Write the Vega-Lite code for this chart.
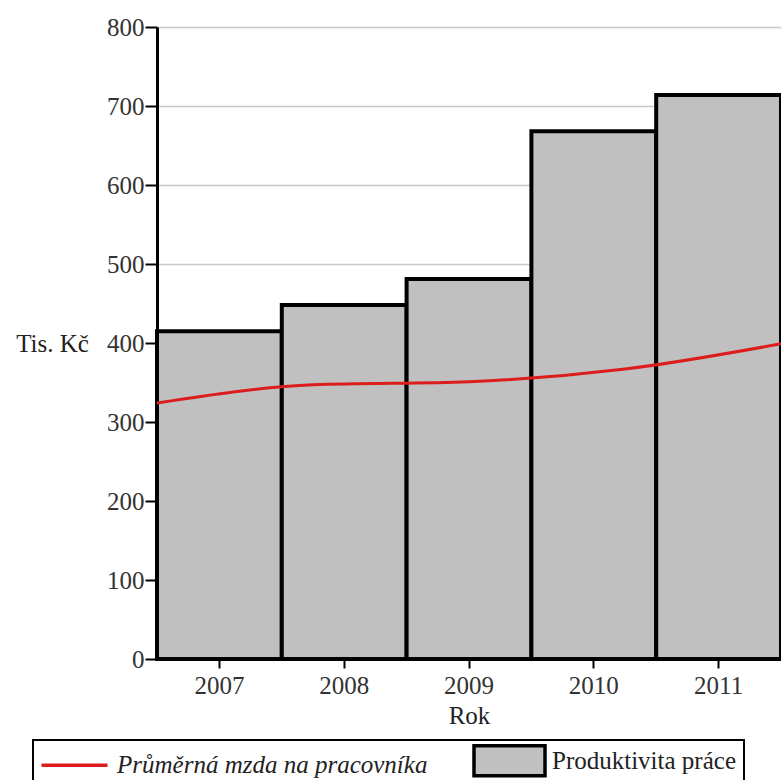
{
  "$schema": "https://vega.github.io/schema/vega-lite/v6.json",
  "width": 624,
  "height": 632,
  "autosize": "none",
  "padding": {"left": 157, "top": 27, "right": 0, "bottom": 121},
  "background": "white",
  "config": {
    "font": "Liberation Serif",
    "view": {"stroke": null},
    "axis": {"labelFont": "Liberation Serif", "titleFont": "Liberation Serif"},
    "legend": {"labelFont": "Liberation Serif", "strokeWidth": 2}
  },
  "data": {
    "values": [
      {"rok": 2007, "produktivita": 415, "mzda": 324},
      {"rok": 2008, "produktivita": 448, "mzda": 347},
      {"rok": 2009, "produktivita": 481, "mzda": 351},
      {"rok": 2010, "produktivita": 668, "mzda": 367},
      {"rok": 2011, "produktivita": 714, "mzda": 399}
    ]
  },
  "layer": [
    {
      "mark": {"type": "bar", "stroke": "black", "strokeWidth": 4, "fillOpacity": 1},
      "encoding": {
        "x": {
          "field": "rok",
          "type": "ordinal",
          "scale": {"paddingInner": 0, "paddingOuter": 0},
          "axis": {
            "title": "Rok",
            "titleFontSize": 25,
            "titleFontWeight": "normal",
            "titleColor": "#222",
            "titlePadding": 5,
            "labelAngle": 0,
            "labelFontSize": 25,
            "labelColor": "#333",
            "labelPadding": 5,
            "tickSize": 9,
            "tickColor": "black",
            "tickWidth": 2,
            "domainColor": "black",
            "domainWidth": 3,
            "grid": false
          }
        },
        "y": {
          "field": "produktivita",
          "type": "quantitative",
          "scale": {"domain": [0, 800], "nice": false},
          "axis": {
            "title": "Tis. Kč",
            "titleAngle": 0,
            "titleX": -105,
            "titleY": 316,
            "titleAlign": "center",
            "titleBaseline": "middle",
            "titleFontSize": 25,
            "titleFontWeight": "normal",
            "titleColor": "#222",
            "values": [0, 100, 200, 300, 400, 500, 600, 700, 800],
            "labelFontSize": 25,
            "labelColor": "#333",
            "labelPadding": 1,
            "tickSize": 12,
            "tickColor": "black",
            "tickWidth": 2,
            "domainColor": "black",
            "domainWidth": 3,
            "grid": true,
            "gridColor": "#c8c8c8",
            "gridWidth": 1.5
          }
        },
        "fill": {
          "datum": "Produktivita práce",
          "scale": {
            "domain": ["Průměrná mzda na pracovníka", "Produktivita práce"],
            "range": ["transparent", "#c0c0c0"]
          },
          "legend": {
            "title": null,
            "orient": "none",
            "legendX": -124,
            "legendY": 713,
            "direction": "horizontal",
            "columns": 2,
            "columnPadding": 39,
            "padding": 8,
            "strokeColor": "black",
            "labelFont": "Liberation Serif",
            "labelFontSize": 25,
            "labelColor": "#222",
            "labelOffset": 30,
            "labelLimit": 600,
            "labelFontStyle": {"expr": "datum.value === 'Produktivita práce' ? 'normal' : 'italic'"},
            "symbolSize": 400,
            "symbolOffset": 21,
            "symbolStrokeWidth": 3.5,
            "symbolType": {"expr": "datum.value === 'Produktivita práce' ? 'M-3.55,-1.5H3.55V1.5H-3.55Z' : 'M-3.3,0H3.3'"},
            "symbolStrokeColor": {"expr": "datum.value === 'Produktivita práce' ? 'black' : '#dd1c1c'"}
          }
        }
      }
    },
    {
      "mark": {"type": "line", "strokeWidth": 3, "interpolate": "monotone", "color": "#dd1c1c"},
      "encoding": {
        "x": {
          "field": "rok",
          "type": "quantitative",
          "scale": {"domain": [2007, 2011], "nice": false, "zero": false},
          "axis": null
        },
        "y": {"field": "mzda", "type": "quantitative"}
      }
    }
  ],
  "resolve": {"scale": {"x": "independent"}, "axis": {"x": "independent"}}
}
